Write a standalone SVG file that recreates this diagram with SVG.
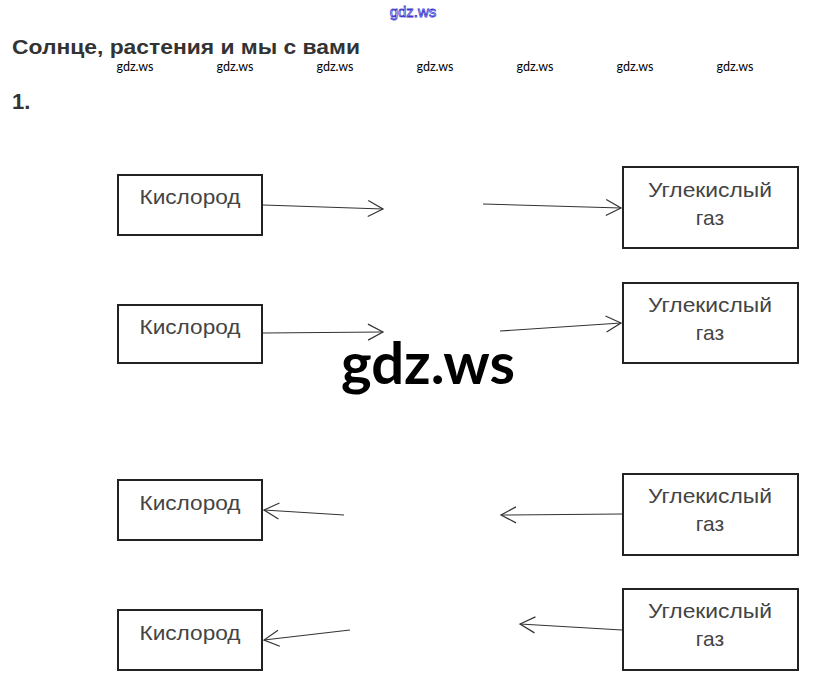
<svg xmlns="http://www.w3.org/2000/svg" width="827" height="686" viewBox="0 0 827 686">
<defs>
<marker id="arr" viewBox="0 0 20 20" refX="18" refY="10" markerWidth="20" markerHeight="20" markerUnits="userSpaceOnUse" orient="auto">
<path d="M3,2 L18,10 L3,18" fill="none" stroke="#333" stroke-width="1.2"/>
</marker>
<style>
.box{fill:#fff;stroke:#222;stroke-width:2}
.lbl{font-family:"Liberation Sans",Arial,sans-serif;font-size:21px;fill:#444;text-anchor:middle}
.wm{font-family:"Lato","Liberation Sans",sans-serif;font-size:12.5px;fill:#000;text-anchor:middle}
.con line{stroke:#333;stroke-width:1.1;marker-end:url(#arr)}
</style>
</defs>
<rect width="827" height="686" fill="#fff"/>
<text x="413" y="17" font-family="Liberation Sans,Arial,sans-serif" font-size="15" fill="#fff" stroke="#3a3ad0" stroke-width="0.8" text-anchor="middle">gdz.ws</text>
<text x="12" y="54" font-family="Liberation Sans,Arial,sans-serif" font-size="21" font-weight="bold" fill="#333" textLength="348" lengthAdjust="spacingAndGlyphs">Солнце, растения и мы с вами</text>
<g>
<text class="wm" x="135" y="71">gdz.ws</text>
<text class="wm" x="235" y="71">gdz.ws</text>
<text class="wm" x="335" y="71">gdz.ws</text>
<text class="wm" x="435" y="71">gdz.ws</text>
<text class="wm" x="535" y="71">gdz.ws</text>
<text class="wm" x="635" y="71">gdz.ws</text>
<text class="wm" x="735" y="71">gdz.ws</text>
</g>
<text x="12" y="109" font-family="Liberation Sans,Arial,sans-serif" font-size="22" font-weight="bold" fill="#333">1.</text>

<g id="o1"><rect class="box" x="118" y="175" width="144" height="60"/><text class="lbl" x="190" y="204" textLength="101" lengthAdjust="spacingAndGlyphs">Кислород</text></g>
<g id="o2"><rect class="box" x="118" y="305" width="144" height="58"/><text class="lbl" x="190" y="334" textLength="101" lengthAdjust="spacingAndGlyphs">Кислород</text></g>
<g id="o3"><rect class="box" x="118" y="480" width="144" height="60"/><text class="lbl" x="190" y="510" textLength="101" lengthAdjust="spacingAndGlyphs">Кислород</text></g>
<g id="o4"><rect class="box" x="118" y="610" width="144" height="60"/><text class="lbl" x="190" y="640" textLength="101" lengthAdjust="spacingAndGlyphs">Кислород</text></g>

<g id="c1"><rect class="box" x="623" y="167" width="175" height="81"/><text class="lbl" x="710" y="197" textLength="124" lengthAdjust="spacingAndGlyphs">Углекислый</text><text class="lbl" x="710" y="225">газ</text></g>
<g id="c2"><rect class="box" x="623" y="283" width="175" height="80"/><text class="lbl" x="710" y="312" textLength="124" lengthAdjust="spacingAndGlyphs">Углекислый</text><text class="lbl" x="710" y="340">газ</text></g>
<g id="c3"><rect class="box" x="623" y="474" width="175" height="81"/><text class="lbl" x="710" y="503" textLength="124" lengthAdjust="spacingAndGlyphs">Углекислый</text><text class="lbl" x="710" y="531">газ</text></g>
<g id="c4"><rect class="box" x="623" y="589" width="175" height="81"/><text class="lbl" x="710" y="618" textLength="124" lengthAdjust="spacingAndGlyphs">Углекислый</text><text class="lbl" x="710" y="646">газ</text></g>

<g class="con" id="connectors">
<line x1="263" y1="205" x2="383" y2="209"/>
<line x1="483" y1="204" x2="621" y2="208"/>
<line x1="263" y1="333" x2="383" y2="332"/>
<line x1="500" y1="331" x2="621" y2="323"/>
<line x1="344" y1="515" x2="264" y2="510"/>
<line x1="622" y1="514" x2="501" y2="515"/>
<line x1="350" y1="630" x2="264" y2="640"/>
<line x1="622" y1="630" x2="520" y2="624"/>
</g>

<text x="428" y="384" font-family="Lato,'Liberation Sans',sans-serif" font-size="58" font-weight="bold" fill="#000" text-anchor="middle">gdz.ws</text>
</svg>
